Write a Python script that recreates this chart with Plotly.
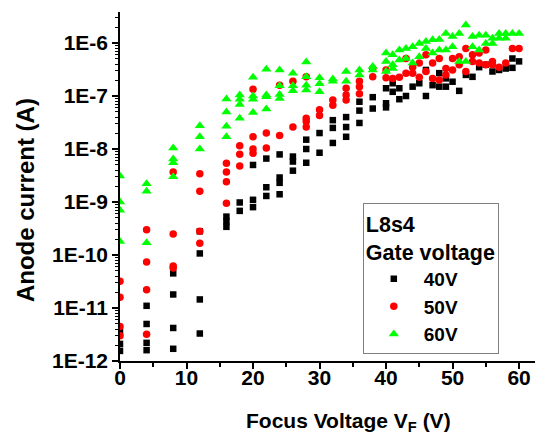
import plotly.graph_objects as go

# ---- data: Focus voltage (V) and anode current (A) ----
x_40 = [0, 0, 0,
        4, 4, 4, 4,
        8, 8, 8, 8,
        12, 12, 12, 12,
        16, 16, 16,
        18, 18,
        20, 20, 20,
        22, 22, 22,
        24, 24, 24, 24,
        26, 26, 26,
        28, 28, 28,
        30, 30,
        32, 32, 32,
        34, 34, 34,
        36, 36, 36,
        38, 38,
        40, 40, 40,
        41, 41, 42, 42, 43, 44, 45, 46, 46, 47, 48, 48, 49, 49,
        50, 51, 52, 53, 54, 55, 56, 57, 58, 59, 59, 60]
y_40 = [3.5e-12, 2.1e-12, 1.55e-12,
        1.1e-11, 5e-12, 2.2e-12, 1.6e-12,
        4.5e-11, 1.8e-11, 4.2e-12, 1.7e-12,
        2.8e-10, 1.07e-10, 1.45e-11, 3.3e-12,
        5.3e-10, 4.3e-10, 3.4e-10,
        9.8e-10, 6.8e-10,
        5.0e-9, 1.1e-9, 8.0e-10,
        6.6e-9, 1.9e-9, 1.3e-9,
        7.9e-9, 2.9e-9, 2.3e-9, 1.4e-9,
        7.2e-9, 5.8e-9, 3.9e-9,
        1.5e-8, 1.0e-8, 5.5e-9,
        2.0e-8, 8.5e-9,
        3.5e-8, 2.5e-8, 1.3e-8,
        4.0e-8, 2.6e-8, 1.7e-8,
        7.8e-8, 5.3e-8, 3.1e-8,
        9.5e-8, 5.8e-8,
        1.4e-7, 7.3e-8, 6.1e-8,
        1.74e-7, 1.2e-7, 1.4e-7, 8.7e-8, 1.0e-7, 1.5e-7, 1.74e-7, 3.1e-7, 1.0e-7,
        1.6e-7, 2.7e-7, 1.5e-7, 2.15e-7, 1.5e-7,
        1.86e-7, 1.25e-7, 2.5e-7, 2.3e-7, 3.5e-7, 3.9e-7, 2.9e-7, 3.1e-7, 3.3e-7,
        5.1e-7, 3.4e-7, 4.5e-7]

x_50 = [0, 0, 0, 0,
        4, 4, 4, 4,
        8, 8, 8, 8,
        12, 12, 12, 12,
        16, 16, 16, 16,
        18, 18, 18,
        20, 20, 20, 20,
        22, 22,
        24, 24,
        26, 26,
        28, 28, 28, 28,
        30, 30,
        32, 32,
        34, 34, 34,
        36, 36, 36,
        38, 38,
        40, 40,
        41, 42, 43, 43, 44, 44, 45, 45, 46, 46, 47, 47, 48, 48, 49, 49,
        50, 50, 51, 51, 52, 52, 53, 53, 54, 54, 55, 55, 56, 56, 57, 58, 59, 60]
y_50 = [3.2e-11, 1.6e-11, 4.5e-12, 3.0e-12,
        3.0e-10, 7.4e-11, 2.2e-11, 3.2e-12,
        3.7e-9, 2.5e-10, 6.2e-11, 5.7e-11,
        3.4e-9, 1.6e-9, 2.8e-10, 1.66e-10,
        5.4e-9, 3.7e-9, 2.4e-9, 9.5e-10,
        1.15e-8, 8.0e-9, 4.8e-9,
        1.34e-7, 1.7e-8, 1.0e-8, 8.3e-9,
        2.0e-8, 1.05e-8,
        1.6e-7, 1.8e-8,
        1.9e-7, 2.6e-8,
        2.3e-7, 3.8e-8, 3.3e-8, 2.6e-8,
        5.5e-8, 4.3e-8,
        8.4e-8, 6.7e-8,
        1.4e-7, 1.05e-7, 8.4e-8,
        1.9e-7, 1.5e-7, 1.1e-7,
        3.3e-7, 2.3e-7,
        3.1e-7, 2.2e-7,
        2.15e-7, 2.25e-7, 5.1e-7, 2.7e-7, 3.5e-7, 2.7e-7, 4.2e-7, 2.25e-7,
        6.0e-7, 2.9e-7, 4.2e-7, 2.15e-7, 5.1e-7, 2.0e-7, 3.3e-7, 2.5e-7,
        5.1e-7, 3.1e-7, 5.5e-7, 3.9e-7, 7.9e-7, 2.9e-7, 6.0e-7, 4.5e-7,
        6.5e-7, 4.2e-7, 7.4e-7, 3.9e-7, 4.5e-7, 3.9e-7, 3.5e-7, 4.2e-7, 7.9e-7, 7.9e-7]

x_60 = [0, 0, 0, 0,
        4, 4, 4,
        8, 8, 8, 8,
        12, 12, 12,
        16, 16, 16, 16,
        18, 18, 18, 18,
        20, 20, 20, 20,
        22, 22, 22, 22,
        24, 24, 24, 24,
        26, 26, 26,
        28, 28, 28, 28,
        30, 30, 30,
        32, 32,
        34, 34,
        36, 36,
        38, 38,
        40, 40, 40,
        41, 41, 41, 42, 42, 43, 43, 44, 44, 45, 45, 46, 46, 47, 47, 48, 48, 49, 49,
        50, 50, 51, 51, 52, 52, 53, 53, 54, 54, 55, 55, 56, 56, 57, 57, 58, 58, 59, 60]
y_60 = [3.1e-9, 1.0e-9, 7.0e-10, 1.8e-10,
        2.2e-9, 1.6e-9, 1.7e-10,
        1.05e-8, 6.5e-9, 5.5e-9, 3.0e-9,
        2.75e-8, 1.7e-8, 1.0e-8,
        8.8e-8, 5.0e-8, 2.7e-8, 1.7e-8,
        1.05e-7, 8.7e-8, 6.9e-8, 3.8e-8,
        2.26e-7, 1.0e-7, 8.7e-8, 4.9e-8,
        3.2e-7, 1.05e-7, 9.7e-8, 5.7e-8,
        3.1e-7, 1.56e-7, 1.07e-7, 9.0e-8,
        2.7e-7, 1.56e-7, 1.25e-7,
        4.4e-7, 2.3e-7, 1.6e-7, 1.3e-7,
        2.2e-7, 1.7e-7, 1.2e-7,
        2.1e-7, 1.9e-7,
        2.9e-7, 1.9e-7,
        3.1e-7, 2.5e-7,
        3.6e-7, 3.1e-7,
        6.5e-7, 4.5e-7, 2.9e-7,
        6.0e-7, 3.9e-7, 3.3e-7, 7.4e-7, 4.8e-7, 7.9e-7, 5.1e-7, 8.5e-7, 4.2e-7,
        9.8e-7, 5.5e-7, 1.07e-6, 7.9e-7, 1.15e-6, 6.5e-7, 1.17e-6, 7.4e-7, 1.51e-6, 7.4e-7,
        1.32e-6, 8.5e-7, 1.51e-6, 4.5e-7, 2.19e-6, 4.5e-7, 1.32e-6, 8.5e-7, 1.4e-6, 7.4e-7,
        1.4e-6, 9.8e-7, 1.23e-6, 9.8e-7, 1.51e-6, 1.23e-6, 1.51e-6, 1.23e-6, 1.51e-6, 1.51e-6]

series_names = ["40V", "50V", "60V"]
x_ticks = [0, 10, 20, 30, 40, 50, 60]
y_tickvals = [1e-12, 1e-11, 1e-10, 1e-9, 1e-8, 1e-7, 1e-6]
y_ticktext = ["1E-12", "1E-11", "1E-10", "1E-9", "1E-8", "1E-7", "1E-6"]
x_title = "Focus Voltage V<sub>F</sub> (V)"
y_title = "Anode current (A)"

FONT = "Liberation Sans, Arial, sans-serif"

fig = go.Figure()
fig.add_trace(go.Scatter(x=x_40, y=y_40, mode="markers", name=f"<b>{series_names[0]}</b>",
                         marker=dict(symbol="square", size=6.5, color="#000000")))
fig.add_trace(go.Scatter(x=x_50, y=y_50, mode="markers", name=f"<b>{series_names[1]}</b>",
                         marker=dict(symbol="circle", size=7.5, color="#ff0000")))
fig.add_trace(go.Scatter(x=x_60, y=y_60, mode="markers", name=f"<b>{series_names[2]}</b>",
                         marker=dict(symbol="triangle-up", size=9, color="#00ff00")))

minor_vals = [k * 10.0 ** e for e in range(-12, -5) for k in range(2, 10)]

# the page body adds an 8px offset, so the figure is 8px smaller and margins shifted
fig.update_layout(
    width=535, height=427,
    margin=dict(l=112, r=0, t=4, b=74),
    paper_bgcolor="white", plot_bgcolor="white",
    font=dict(family=FONT, size=21, color="black"),
    legend=dict(
        title=dict(text="<b>L8s4</b><br><b>Gate voltage</b>", font=dict(size=21.5)),
        x=0.574, y=0.453, xanchor="left", yanchor="top",
        bordercolor="#808080", borderwidth=1, bgcolor="white",
        font=dict(size=19, family=FONT),
        itemsizing="trace", itemwidth=50,
    ),
    xaxis=dict(
        range=[0, 63.6], showgrid=False, zeroline=False, automargin=False,
        showline=True, linecolor="black", linewidth=1.5,
        ticks="outside", ticklen=6, tickwidth=1.5, tickcolor="black",
        tickvals=x_ticks, ticktext=[f"<b>{v}</b>" for v in x_ticks],
        ticklabelstandoff=-9,
        minor=dict(ticks="outside", ticklen=4, tickwidth=1.5, tickcolor="black", dtick=5, tick0=0, showgrid=False),
    ),
    yaxis=dict(
        type="log", range=[-12, -5.415], showgrid=False, zeroline=False, automargin=False,
        showline=True, linecolor="black", linewidth=1.5,
        ticks="outside", ticklen=6, tickwidth=1.5, tickcolor="black",
        tickvals=y_tickvals, ticktext=[f"<b>{t}</b>" for t in y_ticktext],
        minor=dict(ticks="outside", ticklen=3, tickwidth=1, tickcolor="black",
                   tickvals=minor_vals, showgrid=False),
    ),
    annotations=[
        dict(text=f"<b>{x_title}</b>", xref="paper", yref="paper", x=0.541, y=-0.176,
             xanchor="center", yanchor="middle", showarrow=False, font=dict(size=21)),
        dict(text=f"<b>{y_title}</b>", xref="paper", yref="paper", x=-0.2246, y=0.461,
             xanchor="center", yanchor="middle", showarrow=False, textangle=-90,
             font=dict(size=24)),
    ],
)

fig.write_html("out.html")
